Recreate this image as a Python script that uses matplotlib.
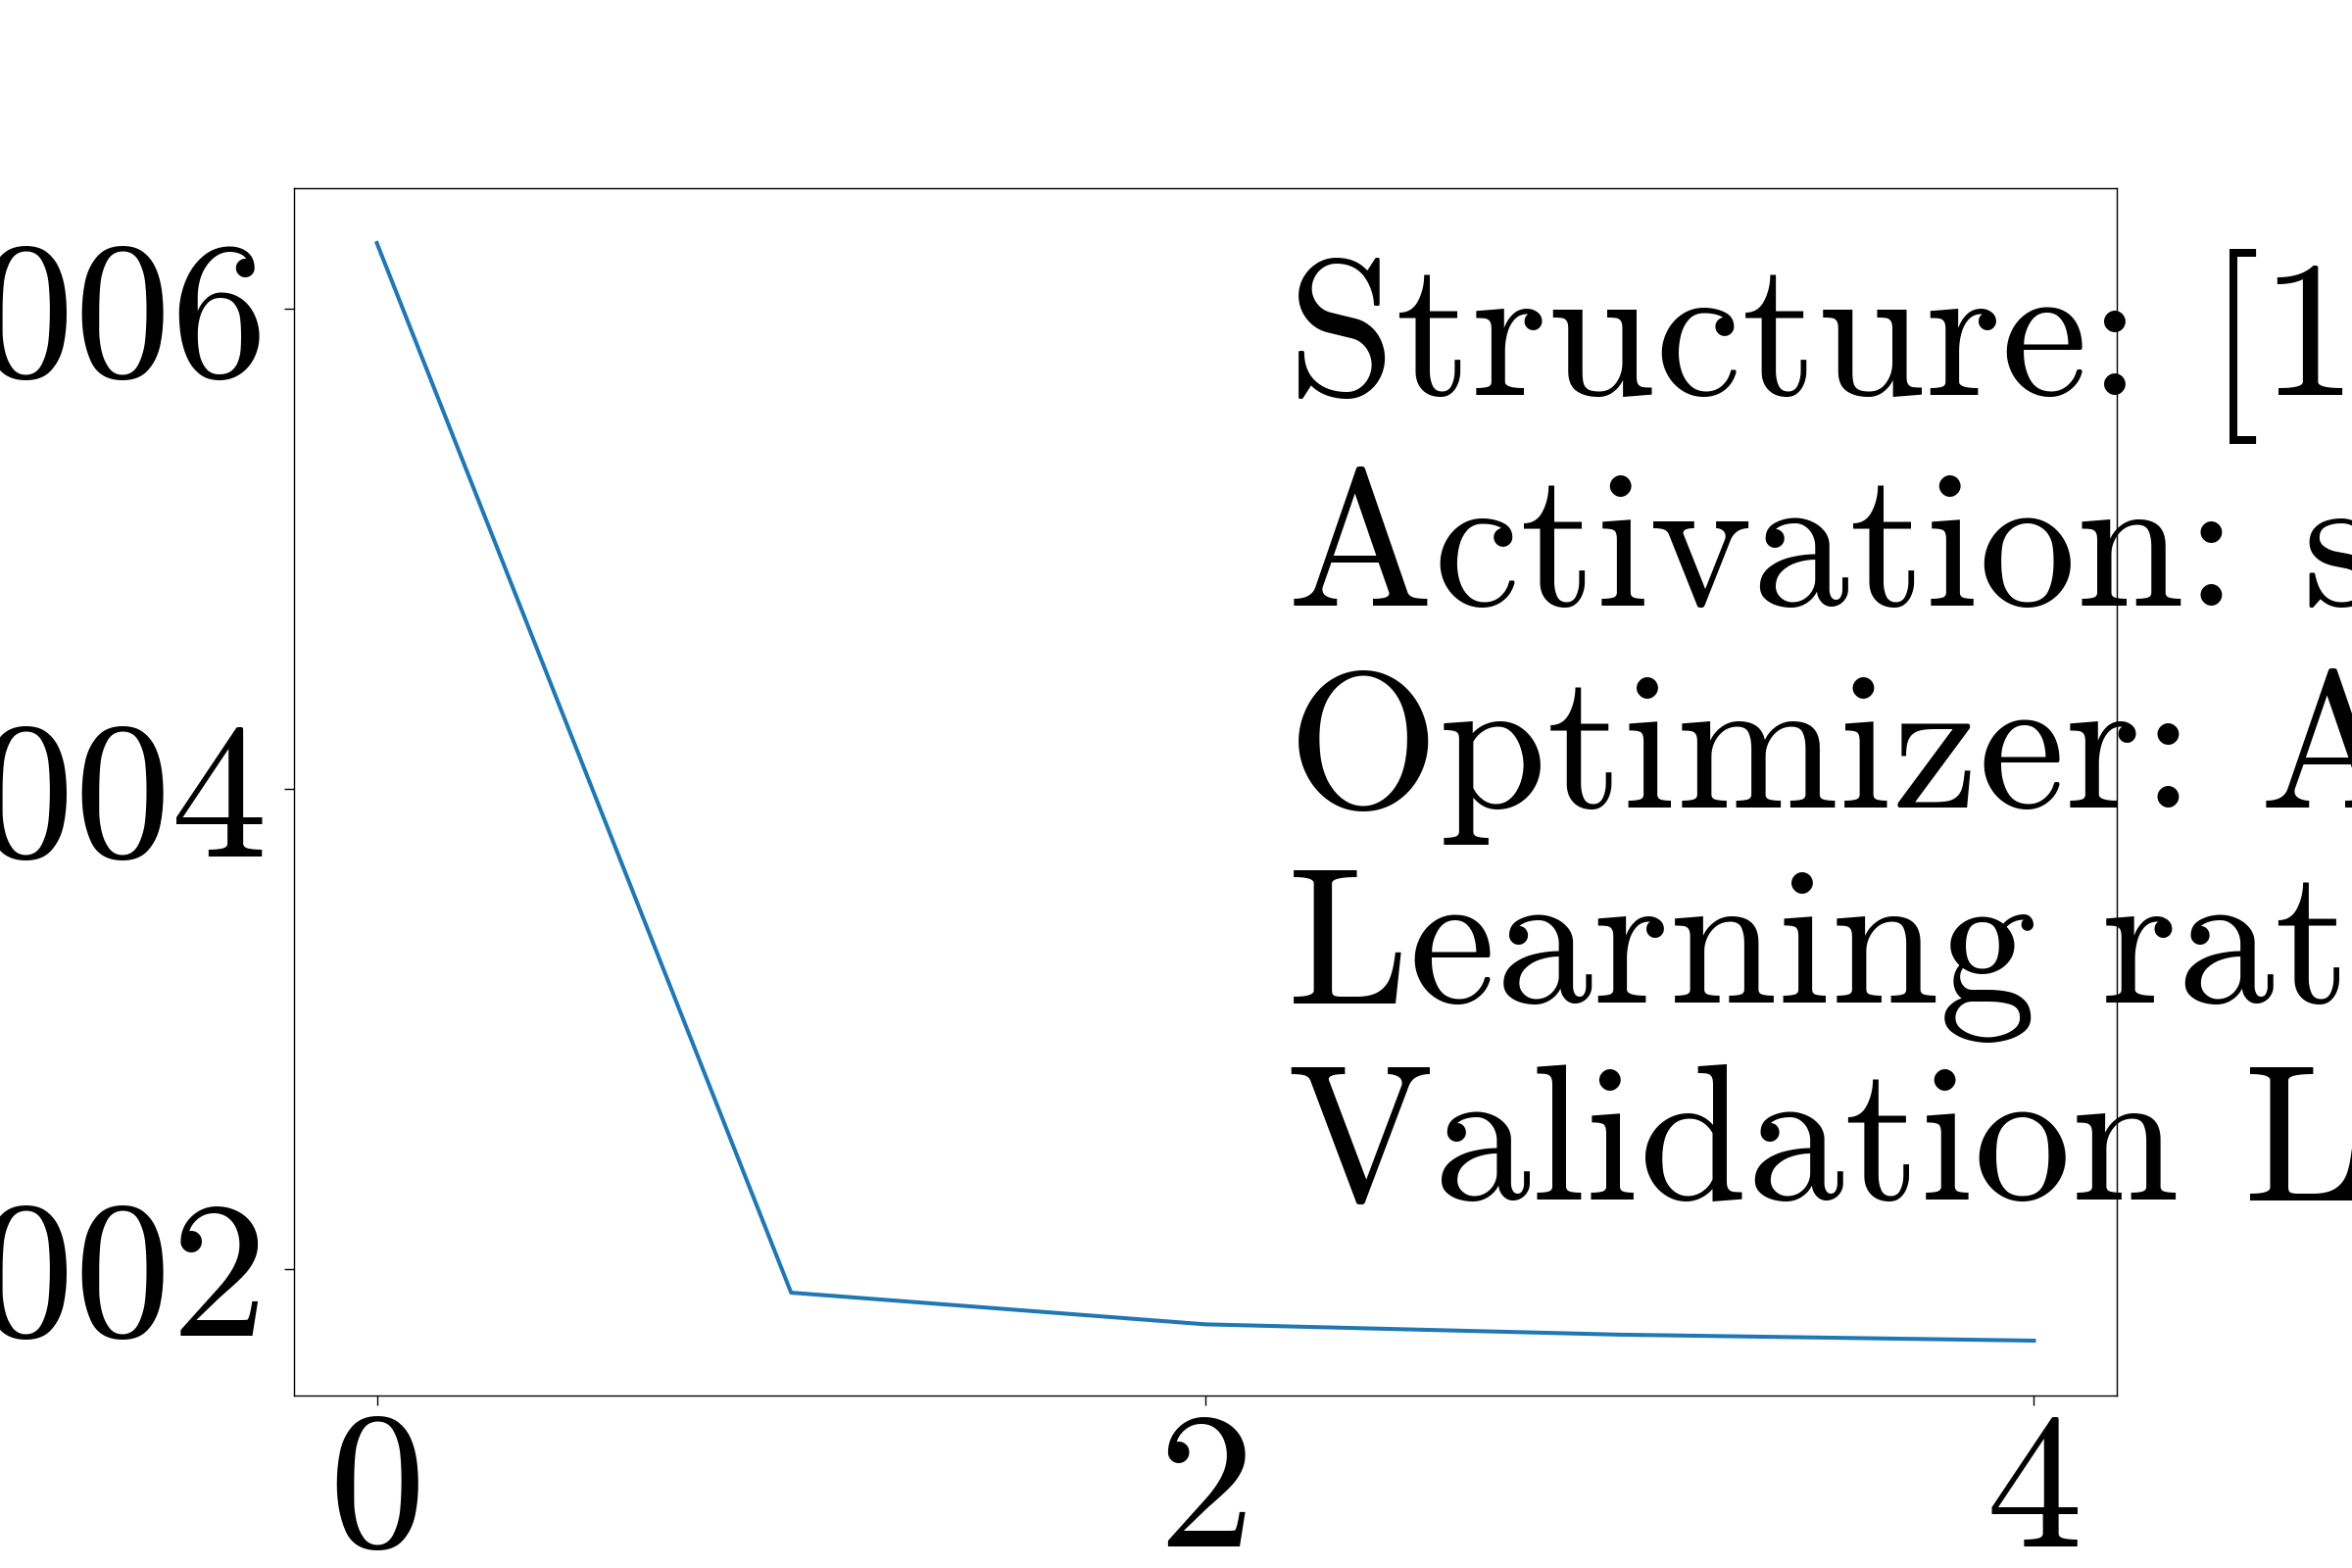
import matplotlib
matplotlib.use("Agg")
import matplotlib.pyplot as plt

plt.rcParams['font.family'] = 'cmr10'
plt.rcParams['mathtext.fontset'] = 'cm'
plt.rcParams['axes.formatter.use_mathtext'] = True

epochs = [0, 1, 2, 3, 4]
val_loss = [0.006275, 0.00190, 0.001768, 0.001725, 0.001700]
x_ticks = [0, 2, 4]
y_ticks = [0.002, 0.004, 0.006]
y_tick_labels = ["0.002", "0.004", "0.006"]
info_lines = [
    "Structure: [17, 64, 64, 1]",
    "Activation: sigmoid",
    "Optimizer: Adam",
    "Learning rate: 0.001",
    "Validation Loss: 0.0017",
]

fig = plt.figure(figsize=(24, 16), dpi=100)
ax = fig.add_subplot(111)
ax.plot(epochs, val_loss, color='#1f77b4', linewidth=2.9)
ax.set_xticks(x_ticks)
ax.set_xticklabels([str(t) for t in x_ticks])
ax.set_yticks(y_ticks)
ax.set_yticklabels(y_tick_labels)
ax.tick_params(labelsize=142, length=7, width=1.0)
ax.tick_params(axis='y', pad=12)
ax.tick_params(axis='x', pad=5)
for s in ax.spines.values():
    s.set_linewidth(1.0)

ax.text(0.545, 0.95, "\n".join(info_lines), transform=ax.transAxes,
        fontsize=143, va='top', ha='left', linespacing=1.165, clip_on=False)

fig.savefig("out.png", dpi=100)
